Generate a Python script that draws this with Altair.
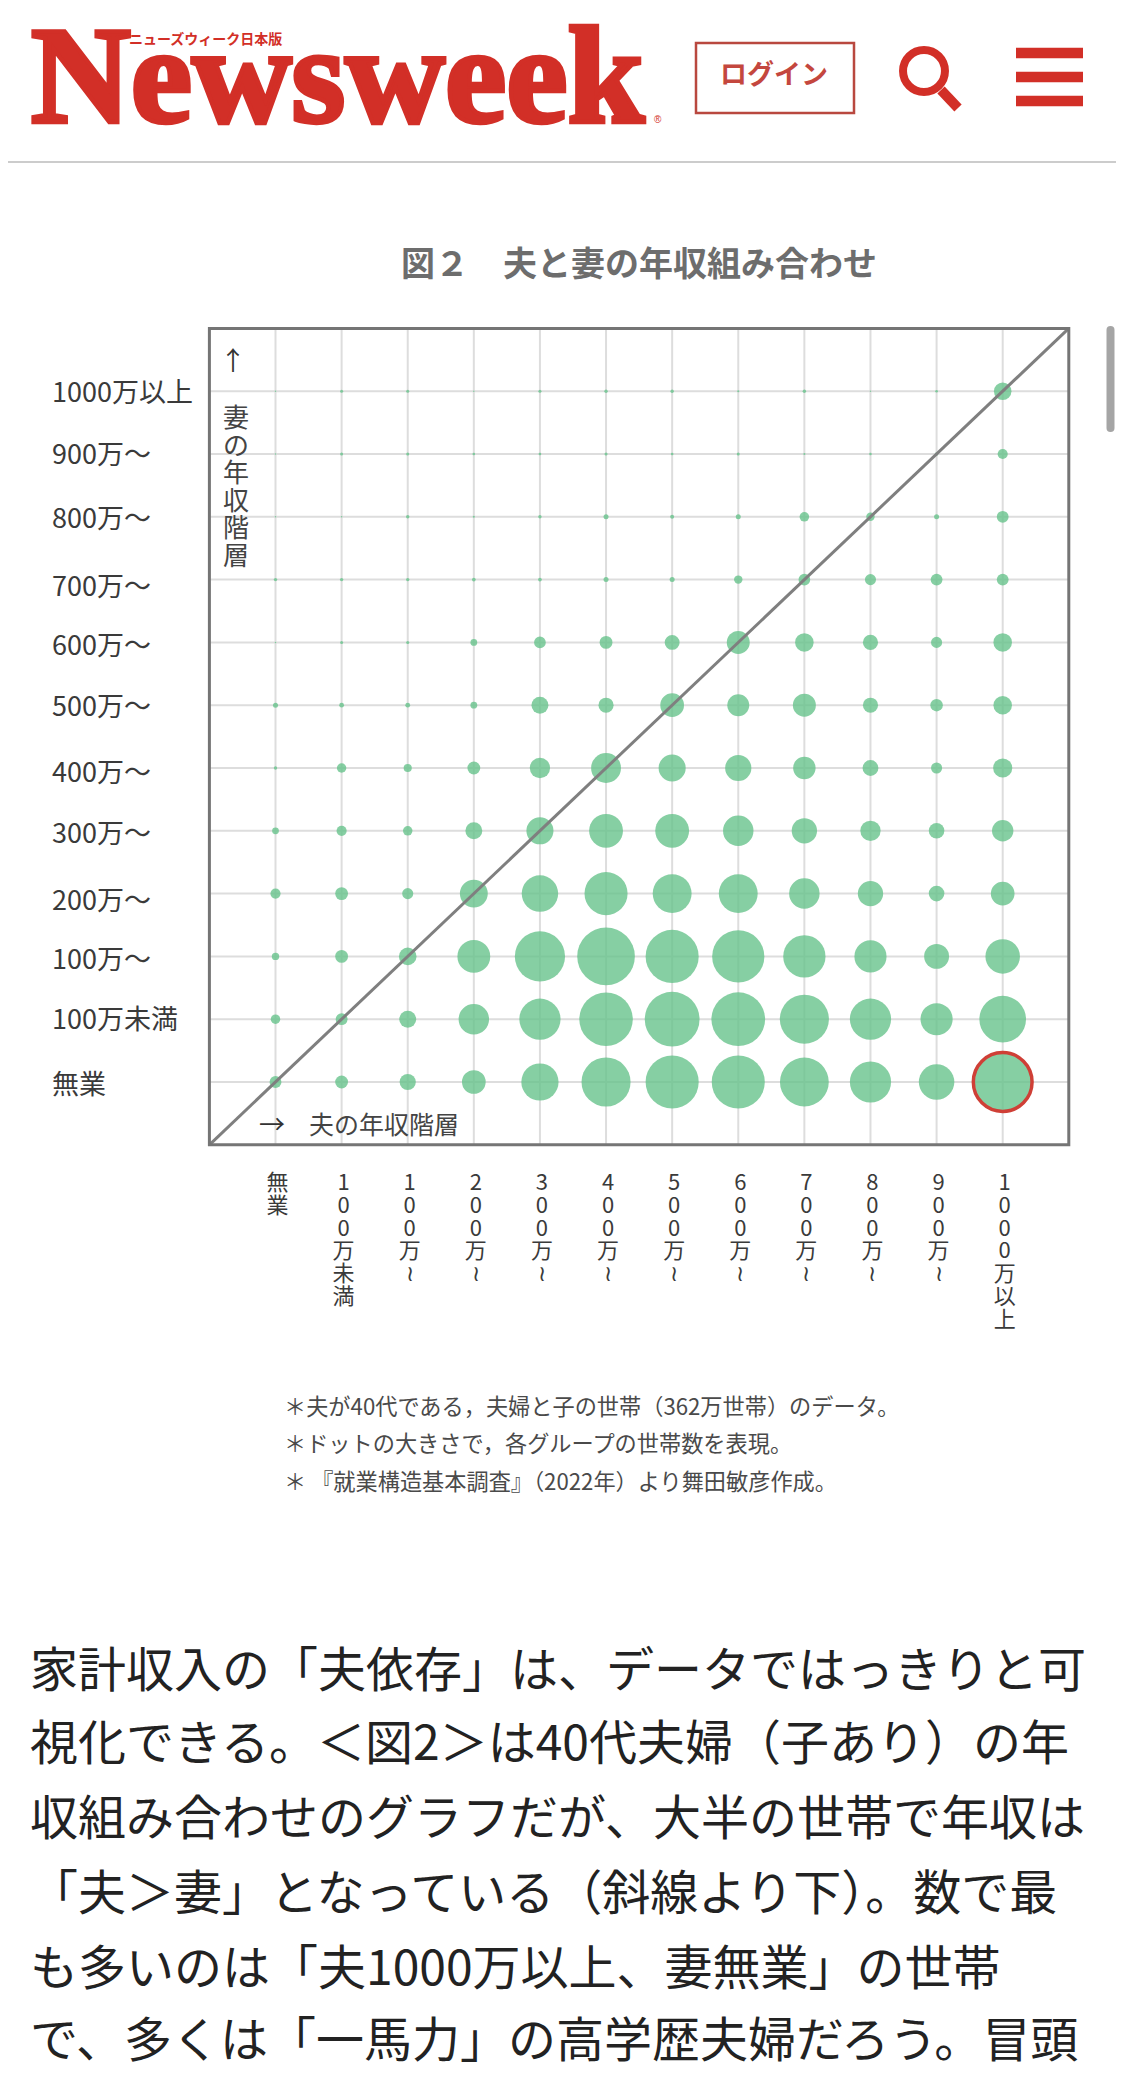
import altair as alt
import pandas as pd

JP = "Noto Sans CJK JP"

husband_labels = ["無業", "100万未満", "100万≀", "200万≀", "300万≀", "400万≀", "500万≀",
                  "600万≀", "700万≀", "800万≀", "900万≀", "1000万以上"]
wife_labels = ["無業", "100万未満", "100万～", "200万～", "300万～", "400万～", "500万～",
               "600万～", "700万～", "800万～", "900万～", "1000万以上"]

# 世帯数 (千世帯), one row per wife's income class
wife_none = [6.1, 7.2, 11.5, 24.5, 60.5, 105, 123, 123, 104, 74, 55, 145]
wife_u100 = [3.9, 6.1, 12.5, 40.5, 74, 125, 131, 126, 105, 74, 45, 95]
wife_100 = [2.4, 7.2, 13.5, 47, 110, 145, 123, 119, 78, 45, 27, 52]
wife_200 = [4.5, 7.2, 5.4, 34, 58, 81, 66, 66, 40.5, 28, 10.6, 24.5]
wife_300 = [2, 4.5, 3.9, 12.5, 32, 50, 50, 40.5, 28, 18, 10.6, 20]
wife_400 = [0.5, 3.9, 2.9, 7.2, 18, 39, 32, 30, 22, 11, 5.4, 16]
wife_500 = [1.1, 1, 1, 2, 12.5, 10, 24.5, 21, 23, 10, 6.8, 15]
wife_600 = [0.1, 0.4, 0.4, 2, 6, 7.2, 9.7, 23, 15, 10, 5.4, 15]
wife_700 = [0.5, 0.5, 0.5, 0.6, 0.6, 1.1, 1.1, 3.1, 6, 5.4, 6.1, 6.1]
wife_800 = [0.1, 0.1, 0.5, 0.2, 0.5, 1.1, 0.7, 1.1, 4, 3.1, 1.1, 6.1]
wife_900 = [0.1, 0.4, 0.4, 0.3, 0.3, 0.4, 0.3, 0.4, 0.2, 0.3, 0.5, 4.5]
wife_1000 = [0.1, 0.4, 0.4, 0.1, 0.4, 0.5, 0.5, 0.2, 0.5, 0.1, 0.3, 13.5]
rows = [wife_none, wife_u100, wife_100, wife_200, wife_300, wife_400, wife_500,
        wife_600, wife_700, wife_800, wife_900, wife_1000]

notes = ["＊夫が40代である，夫婦と子の世帯（362万世帯）のデータ。",
         "＊ドットの大きさで，各グループの世帯数を表現。",
         "＊ 『就業構造基本調査』（2022年）より舞田敏彦作成。"]
body = ["家計収入の「夫依存」は、データではっきりと可",
        "視化できる。＜図2＞は40代夫婦（子あり）の年",
        "収組み合わせのグラフだが、大半の世帯で年収は",
        "「夫＞妻」となっている（斜線より下）。数で最",
        "も多いのは「夫1000万以上、妻無業」の世帯",
        "で、多くは「一馬力」の高学歴夫婦だろう。冒頭"]

RED = "#d22f27"
W, H = 1108, 2069
ROW_PX = 62.8
# the reference's wife-axis labels sit slightly unevenly below their grid lines
label_nudge_px = [4, 2, 5, 8, 4.5, 6, 3, 5, 8, 3, 2, 3]


def px(v):
    return v - 8


dots = pd.DataFrame([{"h": h, "w": w, "n": rows[w][h]} for w in range(12) for h in range(12)])
idx = pd.DataFrame({"i": list(range(12)), "a": -1, "b": 12,
                    "xl": ["\n".join(s) for s in husband_labels], "yl": wife_labels})
idx["yp"] = [i - d / ROW_PX for i, d in enumerate(label_nudge_px)]
frame = pd.DataFrame({"a": [-1], "b": [12]})

xs = alt.Scale(domain=[-1, 12], range=[px(209.4), px(1068.8)], nice=False, zero=False)
ys = alt.Scale(domain=[-1, 12], range=[px(1144.8), px(328.4)], nice=False, zero=False)


def X(f):
    return alt.X(f, scale=xs, axis=None)


def Y(f):
    return alt.Y(f, scale=ys, axis=None)


grid_v = alt.Chart(idx).mark_rule(color="#dddddd", strokeWidth=2).encode(
    x=X("i:Q"), y=Y("a:Q"), y2="b:Q")
grid_h = alt.Chart(idx).mark_rule(color="#dddddd", strokeWidth=2).encode(
    y=Y("i:Q"), x=X("a:Q"), x2="b:Q")
circles = alt.Chart(dots).mark_circle(color="#68c38c", opacity=0.8).encode(
    x=X("h:Q"), y=Y("w:Q"),
    size=alt.Size("n:Q", scale=alt.Scale(domain=[0, 145], range=[0, 3322]), legend=None))
ring = alt.Chart(dots[dots.n == dots.n.max()].head(1)).mark_point(
    filled=False, color="#cf3f36", strokeWidth=3.5, opacity=1, size=3450).encode(
    x=X("h:Q"), y=Y("w:Q"))
diag = alt.Chart(frame).mark_rule(color="#7f7f7f", strokeWidth=3).encode(
    x=X("a:Q"), x2="b:Q", y=Y("a:Q"), y2="b:Q")
box = alt.Chart(frame).mark_rect(fillOpacity=0, stroke="#757575", strokeWidth=3).encode(
    x=X("a:Q"), x2="b:Q", y=Y("a:Q"), y2="b:Q")
x_labels = alt.Chart(idx).mark_text(
    font=JP, fontSize=22, color="#3a3a3a", align="center", baseline="top",
    lineBreak="\n", lineHeight=22.8, dx=2).encode(
    x=X("i:Q"), y=alt.value(px(1173)), text="xl:N")
y_labels = alt.Chart(idx).mark_text(
    font=JP, fontSize=27, color="#3a3a3a", align="left", baseline="middle").encode(
    x=alt.value(px(52)), y=Y("yp:Q"), text="yl:N")


def txt(s, x, y, **kw):
    kw.setdefault("font", JP)
    kw.setdefault("align", "left")
    kw.setdefault("baseline", "middle")
    return alt.Chart(pd.DataFrame({"t": [s]})).mark_text(**kw).encode(
        text="t:N", x=alt.value(px(x)), y=alt.value(px(y)))


def seg(x1, y1, x2, y2, color, width, cap="butt"):
    return alt.Chart(pd.DataFrame({"k": [0]})).mark_rule(color=color, strokeWidth=width, strokeCap=cap).encode(
        x=alt.value(px(x1)), x2=alt.value(px(x2)), y=alt.value(px(y1)), y2=alt.value(px(y2)))


header = [
    txt("Newsweek", 31, 122, font="Liberation Serif", fontWeight="bold", fontSize=138,
        baseline="alphabetic", color=RED, stroke=RED, strokeWidth=4.5),
    txt("®", 654, 120, font="Liberation Sans", fontSize=10, color=RED),
    txt("ニューズウィーク日本版", 129, 40, fontWeight="bold", fontSize=14, color=RED),
    alt.Chart(pd.DataFrame({"k": [0]})).mark_rect(fillOpacity=0, stroke="#b9483f", strokeWidth=2.5).encode(
        x=alt.value(px(696)), x2=alt.value(px(854)), y=alt.value(px(43)), y2=alt.value(px(113))),
    txt("ログイン", 774, 76, align="center", fontSize=27, fontWeight="bold", color="#c4473e"),
    alt.Chart(pd.DataFrame({"k": [0]})).mark_point(filled=False, color=RED, strokeWidth=8, size=1760, opacity=1).encode(
        x=alt.value(px(924)), y=alt.value(px(71))),
    seg(941, 90, 958, 108, RED, 10),
    seg(1016, 53, 1083, 53, RED, 10.5),
    seg(1016, 77, 1083, 77, RED, 10.5),
    seg(1016, 101, 1083, 101, RED, 10.5),
    seg(0, 162, 1124, 162, "#cccccc", 2),
    seg(1110.5, 330, 1110.5, 428, "#a5a5a5", 8, "round"),
]

texts = [
    txt("図２　夫と妻の年収組み合わせ", 401, 266, fontSize=34, fontWeight="bold", color="#6d6d6d"),
    txt("↑", 233, 362, align="center", fontSize=26, color="#333333"),
    txt("妻\nの\n年\n収\n階\n層", 236, 406, align="center", baseline="top", fontSize=26,
        lineBreak="\n", lineHeight=27.5, color="#444444"),
    txt("→", 272, 1126, align="center", fontSize=26, color="#333333"),
    txt("夫の年収階層", 309, 1126, fontSize=25, color="#444444"),
]
texts += [txt(s, 284, y, fontSize=22.2, color="#4a4a4a") for s, y in zip(notes, [1408, 1445, 1483])]
texts += [txt(s, 30, y, fontSize=48, color="#222222") for s, y in zip(body, [1673, 1746, 1821, 1896, 1971, 2043])]

chart = alt.layer(
    grid_v, grid_h, circles, ring, diag, box, x_labels, y_labels, *header, *texts
).resolve_scale(x="shared", y="shared").properties(
    width=W, height=H, padding=0, background="white",
    autosize=alt.AutoSizeParams(type="none"),
).configure_view(stroke=None)

chart.save("out.html", embed_options={"renderer": "svg", "actions": False})
